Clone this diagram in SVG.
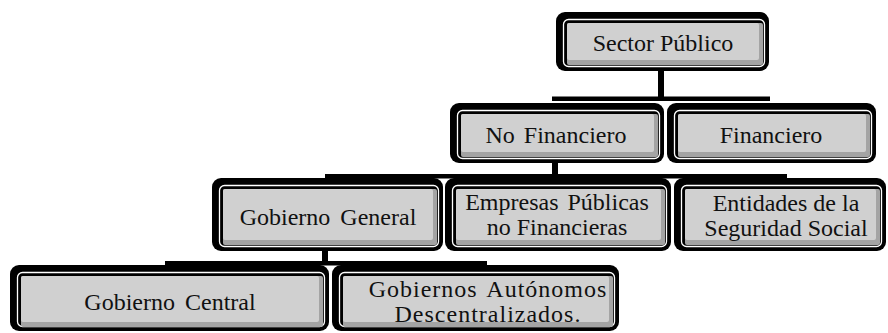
<svg xmlns="http://www.w3.org/2000/svg" width="888" height="333" viewBox="0 0 888 333">
<style>
.o{fill:#000}
.w{fill:none;stroke:#fff;stroke-width:1.3}
.d{fill:#a4a4a4}
.l{fill:#d0d0d0}
.t{font-family:"Times New Roman",Tinos,"Liberation Serif","DejaVu Serif","Noto Serif",serif;font-size:24px;fill:#111;text-anchor:middle}
.c{fill:#000}
</style>
<rect width="888" height="333" fill="#fff"/>
<g id="connectors">
<rect class="c" x="658" y="68" width="6" height="32"/>
<rect class="c" x="552" y="96.5" width="218" height="4.5"/>
<rect class="c" x="552" y="160" width="6" height="17"/>
<rect class="c" x="325" y="174" width="462" height="4.5"/>
<rect class="c" x="322" y="248" width="6" height="16"/>
<rect class="c" x="165" y="261" width="322" height="4.5"/>
</g>
<g id="sector-publico">
<rect class="o" x="556" y="12" width="213" height="59" rx="9"/>
<rect class="w" x="563.5" y="19.5" width="201" height="47" rx="5"/>
<rect class="d" x="567" y="23" width="196" height="42" rx="2"/>
<rect class="l" x="567" y="23" width="192" height="37" rx="2"/>
<text class="t" x="663" y="51">Sector Público</text>
</g>
<g id="no-financiero">
<rect class="o" x="450" y="103" width="214" height="60" rx="9"/>
<rect class="w" x="457.5" y="110.5" width="202" height="48" rx="5"/>
<rect class="d" x="461" y="114" width="197" height="43" rx="2"/>
<rect class="l" x="461" y="114" width="193" height="38" rx="2"/>
<text class="t" x="556" y="143" word-spacing="3">No Financiero</text>
</g>
<g id="financiero">
<rect class="o" x="667" y="103" width="209" height="60" rx="9"/>
<rect class="w" x="674.5" y="110.5" width="197" height="48" rx="5"/>
<rect class="d" x="678" y="114" width="192" height="43" rx="2"/>
<rect class="l" x="678" y="114" width="188" height="38" rx="2"/>
<text class="t" x="771" y="143">Financiero</text>
</g>
<g id="gobierno-general">
<rect class="o" x="212" y="178" width="231" height="73" rx="9"/>
<rect class="w" x="219.5" y="185.5" width="219" height="61" rx="5"/>
<rect class="d" x="223" y="189" width="214" height="56" rx="2"/>
<rect class="l" x="223" y="189" width="210" height="51" rx="2"/>
<text class="t" x="328" y="225" word-spacing="4">Gobierno General</text>
</g>
<g id="empresas-publicas">
<rect class="o" x="445" y="178" width="226" height="73" rx="9"/>
<rect class="w" x="452.5" y="185.5" width="214" height="61" rx="5"/>
<rect class="d" x="456" y="189" width="209" height="56" rx="2"/>
<rect class="l" x="456" y="189" width="205" height="51" rx="2"/>
<text class="t" x="557" y="210" word-spacing="3">Empresas Públicas</text>
<text class="t" x="557" y="235">no Financieras</text>
</g>
<g id="seguridad-social">
<rect class="o" x="674" y="178" width="212" height="73" rx="9"/>
<rect class="w" x="681.5" y="185.5" width="200" height="61" rx="5"/>
<rect class="d" x="685" y="189" width="195" height="56" rx="2"/>
<rect class="l" x="685" y="189" width="191" height="51" rx="2"/>
<text class="t" x="786" y="211">Entidades de la</text>
<text class="t" x="786" y="236">Seguridad Social</text>
</g>
<g id="gobierno-central">
<rect class="o" x="10" y="265" width="319" height="66" rx="9"/>
<rect class="w" x="17.5" y="272.5" width="307" height="54" rx="5"/>
<rect class="d" x="21" y="276" width="302" height="51" rx="2"/>
<rect class="l" x="21" y="276" width="298" height="46" rx="2"/>
<text class="t" x="170" y="310" word-spacing="4">Gobierno Central</text>
</g>
<g id="gobiernos-autonomos">
<rect class="o" x="332" y="265" width="287" height="66" rx="9"/>
<rect class="w" x="339.5" y="272.5" width="275" height="54" rx="5"/>
<rect class="d" x="343" y="276" width="270" height="51" rx="2"/>
<rect class="l" x="343" y="276" width="266" height="46" rx="2"/>
<text class="t" x="488" y="297" letter-spacing="1" word-spacing="3">Gobiernos Autónomos</text>
<text class="t" x="488" y="322" letter-spacing="1">Descentralizados.</text>
</g>
</svg>
